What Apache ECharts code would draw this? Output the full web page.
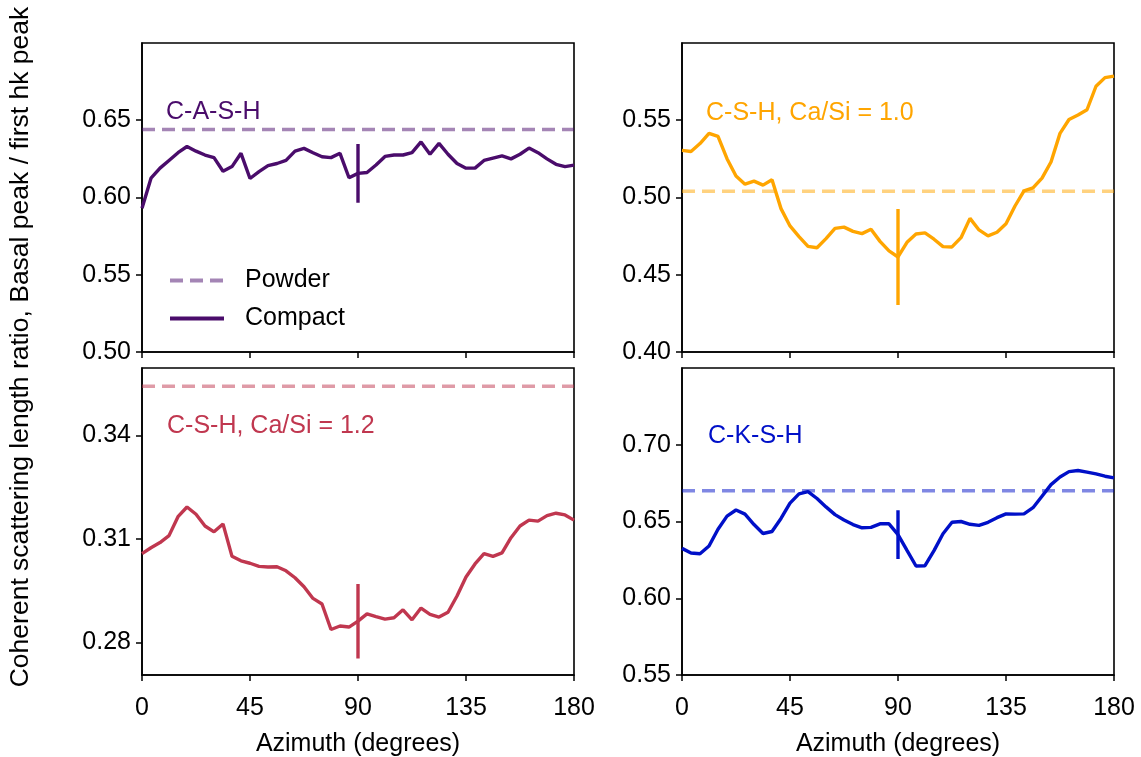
<!DOCTYPE html>
<html>
<head>
<meta charset="utf-8">
<script src="https://cdn.jsdelivr.net/npm/echarts@6/dist/echarts.min.js"></script>
<style>
  html, body { margin: 0; padding: 0; background: #fff; }
  #chart { width: 1141px; height: 757px; }
</style>
</head>
<body>
<div id="chart"></div>
<script>
// azimuth grid (degrees)
var azimuth = [0, 3.75, 7.5, 11.25, 15, 18.75, 22.5, 26.25, 30, 33.75, 37.5, 41.25,
  45, 48.75, 52.5, 56.25, 60, 63.75, 67.5, 71.25, 75, 78.75, 82.5, 86.25,
  90, 93.75, 97.5, 101.25, 105, 108.75, 112.5, 116.25, 120, 123.75, 127.5, 131.25,
  135, 138.75, 142.5, 146.25, 150, 153.75, 157.5, 161.25, 165, 168.75, 172.5, 176.25, 180];

var xTicks = [0, 45, 90, 135, 180];

// compact samples
var cash = [0.593, 0.6125, 0.619, 0.624, 0.629, 0.633, 0.630, 0.6275, 0.6258, 0.617, 0.620, 0.6286,
  0.6123, 0.6167, 0.6206, 0.622, 0.624, 0.630, 0.6318, 0.629, 0.6264, 0.6258, 0.6286, 0.6128,
  0.6156, 0.6162, 0.621, 0.6266, 0.6275, 0.6275, 0.629, 0.636, 0.628, 0.635, 0.628, 0.622,
  0.619, 0.619, 0.624, 0.6255, 0.627, 0.625, 0.628, 0.632, 0.629, 0.625, 0.6215, 0.620, 0.621];

var csh10 = [0.5305, 0.5298, 0.5349, 0.5415, 0.5395, 0.5251, 0.5139, 0.5086, 0.5106, 0.508, 0.5115, 0.4928,
  0.4816, 0.4747, 0.4684, 0.4675, 0.4734, 0.480, 0.4808, 0.4781, 0.4766, 0.4794, 0.4716, 0.4654,
  0.4615, 0.471, 0.4764, 0.4771, 0.473, 0.4682, 0.468, 0.474, 0.4865, 0.479, 0.4752, 0.4775,
  0.483, 0.4945, 0.5043, 0.5062, 0.5125, 0.523, 0.5415, 0.5505, 0.5534, 0.5568, 0.572, 0.5776, 0.5786];

var csh12 = [0.3058, 0.3075, 0.309, 0.311, 0.3165, 0.3193, 0.3172, 0.3138, 0.3121, 0.3144, 0.305, 0.3037,
  0.303, 0.3021, 0.3019, 0.302, 0.3008, 0.2988, 0.2962, 0.2928, 0.2912, 0.2838, 0.2848, 0.2845,
  0.2862, 0.2883, 0.2875, 0.2868, 0.2872, 0.2895, 0.2866, 0.29, 0.2882, 0.2874, 0.2888, 0.2935,
  0.299, 0.3028, 0.3058, 0.305, 0.306, 0.3104, 0.3138, 0.3155, 0.3152, 0.3168, 0.3175, 0.317, 0.3155];

var cksh = [0.6325, 0.6295, 0.629, 0.634, 0.645, 0.6535, 0.6575, 0.6548, 0.648, 0.6422, 0.6435, 0.652,
  0.662, 0.668, 0.6695, 0.665, 0.6595, 0.6545, 0.651, 0.648, 0.6459, 0.6462, 0.6485, 0.6485,
  0.6415, 0.6312, 0.621, 0.6212, 0.631, 0.642, 0.6495, 0.65, 0.6482, 0.6475, 0.6495, 0.6525,
  0.655, 0.6548, 0.655, 0.659, 0.6665, 0.674, 0.679, 0.6825, 0.6832, 0.6822, 0.681, 0.6795, 0.6784];

// powder reference values
var powder = [0.644, 0.504, 0.3543, 0.670];
// half error bar at 90 degrees
var errHalf = [0.019, 0.031, 0.0108, 0.0159];

var panelNames = ['C-A-S-H', 'C-S-H, Ca/Si = 1.0', 'C-S-H, Ca/Si = 1.2', 'C-K-S-H'];
var colors = ['#4a0c6b', '#ffa500', '#c0374f', '#0010c8'];
var fadedColors = ['rgba(74,12,107,0.5)', 'rgba(255,165,0,0.5)', 'rgba(192,55,79,0.5)', 'rgba(0,16,200,0.5)'];
var compact = [cash, csh10, csh12, cksh];

var yRanges = [[0.5, 0.70], [0.4, 0.60], [0.2706, 0.3596], [0.55, 0.75]];
var yTicks = [[0.50, 0.55, 0.60, 0.65], [0.40, 0.45, 0.50, 0.55], [0.28, 0.31, 0.34], [0.55, 0.60, 0.65, 0.70]];

var font = 'Liberation Sans, Arial, sans-serif';
var fs = 25;
var lw = 3.4;

var chart = echarts.init(document.getElementById('chart'));

var grids = [
  { left: 142, top: 43, width: 432, height: 309 },
  { left: 682, top: 43, width: 432, height: 309 },
  { left: 142, top: 368, width: 432, height: 307 },
  { left: 682, top: 368, width: 432, height: 307 }
].map(function (g) {
  g.show = true;
  g.borderColor = '#000';
  g.borderWidth = 1.6;
  g.outerBoundsMode = 'none';
  g.containLabel = false;
  return g;
});

var xAxes = [], yAxes = [], series = [], graphics = [];
for (var i = 0; i < 4; i++) {
  var bottomRow = i >= 2;
  xAxes.push({
    type: 'value', gridIndex: i, min: 0, max: 180,
    axisLine: { show: true, onZero: false, lineStyle: { color: '#000', width: 1.6 } },
    axisTick: { show: true, length: 6, lineStyle: { color: '#000', width: 1.5 }, customValues: xTicks },
    axisLabel: { show: bottomRow, customValues: xTicks, margin: 21, color: '#000', fontSize: fs, fontFamily: font },
    splitLine: { show: false },
    name: bottomRow ? 'Azimuth (degrees)' : '',
    nameLocation: 'middle', nameGap: 57,
    nameTextStyle: { color: '#000', fontSize: fs, fontFamily: font }
  });
  yAxes.push({
    type: 'value', gridIndex: i, min: yRanges[i][0], max: yRanges[i][1],
    axisLine: { show: true, onZero: false, lineStyle: { color: '#000', width: 1.6 } },
    axisTick: { show: true, length: 6, lineStyle: { color: '#000', width: 1.5 }, customValues: yTicks[i] },
    axisLabel: {
      customValues: yTicks[i], margin: 11, color: '#000', fontSize: fs, fontFamily: font,
      formatter: function (v) { return v.toFixed(2); }
    },
    splitLine: { show: false }
  });

  var first = i === 0;
  series.push({
    name: first ? 'Powder' : 'Powder ' + i,
    type: 'line', xAxisIndex: i, yAxisIndex: i,
    data: [[0, powder[i]], [180, powder[i]]],
    symbol: 'none', color: fadedColors[i],
    lineStyle: { color: fadedColors[i], width: lw, type: [13, 7] },
    silent: true, z: 2
  });
  series.push({
    name: first ? 'Compact' : 'Compact ' + i,
    type: 'line', xAxisIndex: i, yAxisIndex: i,
    data: azimuth.map(function (a, k) { return [a, compact[i][k]]; }),
    symbol: 'none', color: colors[i],
    lineStyle: { color: colors[i], width: lw },
    silent: true, z: 3
  });
  var mid = compact[i][azimuth.indexOf(90)];
  series.push({
    name: 'err ' + i,
    type: 'line', xAxisIndex: i, yAxisIndex: i,
    data: [[90, mid - errHalf[i]], [90, mid + errHalf[i]]],
    symbol: 'none',
    lineStyle: { color: colors[i], width: lw },
    silent: true, z: 4
  });
}

var labelPos = [[166, 112], [706, 113], [167, 426], [708, 436]];
for (var j = 0; j < 4; j++) {
  graphics.push({
    type: 'text', x: labelPos[j][0], y: labelPos[j][1], z: 10,
    style: { text: panelNames[j], fill: colors[j], fontSize: fs, fontFamily: font, textVerticalAlign: 'middle' }
  });
}
graphics.push({
  type: 'text', x: 21, y: 347, rotation: Math.PI / 2, z: 10,
  style: {
    text: 'Coherent scattering length ratio, Basal peak / first hk peak',
    fill: '#000', fontSize: 26.5, fontFamily: font, textAlign: 'center', textVerticalAlign: 'middle'
  }
});

chart.setOption({
  animation: false,
  grid: grids,
  xAxis: xAxes,
  yAxis: yAxes,
  legend: {
    data: ['Powder', 'Compact'],
    orient: 'vertical', left: 163, top: 263,
    itemWidth: 54, itemHeight: 14, itemGap: 13,
    itemStyle: { opacity: 0 },
    lineStyle: { width: 4 },
    textStyle: { color: '#000', fontSize: fs, fontFamily: font, padding: [0, 0, 0, 16] }
  },
  graphic: graphics,
  series: series
});
</script>
</body>
</html>
